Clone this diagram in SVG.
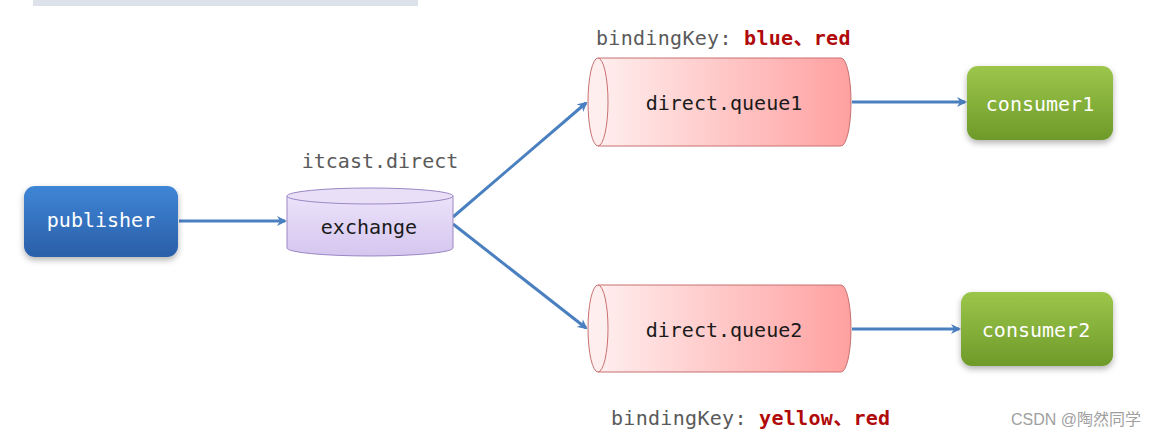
<svg xmlns="http://www.w3.org/2000/svg" width="1157" height="443" viewBox="0 0 1157 443">
<style>
.t{font-family:"DejaVu Sans Mono","Liberation Mono",monospace;font-size:20px;text-anchor:middle;dominant-baseline:central}
.w{fill:#ffffff}
.k{fill:#1a1a1a}
.g{fill:#5a5a5a}
.r{fill:#b00a0a;font-weight:bold}
.b{font-family:"DejaVu Sans Mono","Liberation Mono","Noto Sans CJK SC",monospace;font-size:20px;dominant-baseline:central;letter-spacing:0.3px}
.c{fill:none;stroke:#4a7fc0;stroke-width:3}
</style>
<defs>
<linearGradient id="gb" x1="0" y1="0" x2="0" y2="1"><stop offset="0" stop-color="#3f86d6"/><stop offset="1" stop-color="#2a5ea8"/></linearGradient>
<linearGradient id="gg" x1="0" y1="0" x2="0" y2="1"><stop offset="0" stop-color="#9cc64a"/><stop offset="1" stop-color="#6e9a2a"/></linearGradient>
<linearGradient id="gp" x1="0" y1="0" x2="0" y2="1"><stop offset="0" stop-color="#ebe2fa"/><stop offset="1" stop-color="#d5c6ef"/></linearGradient>
<linearGradient id="gr" x1="0" y1="0" x2="1" y2="0"><stop offset="0" stop-color="#ffeeee"/><stop offset="1" stop-color="#ffa0a0"/></linearGradient>
<filter id="sh" x="-20%" y="-20%" width="140%" height="150%"><feDropShadow dx="0" dy="3" stdDeviation="3" flood-color="#000" flood-opacity="0.3"/></filter>
<marker id="ar" markerWidth="10" markerHeight="10" refX="8" refY="5" orient="auto" markerUnits="userSpaceOnUse"><path d="M0,0 L10,5 L0,10 L3,5 Z" fill="#4a7fc0"/></marker>
</defs>
<rect x="0" y="0" width="1157" height="443" fill="#ffffff"/>
<rect x="33" y="0" width="385" height="6" fill="#dde1ea"/>

<g id="connectors">
<line class="c" x1="179" y1="221" x2="285" y2="221" marker-end="url(#ar)"/>
<line class="c" x1="453" y1="217" x2="586" y2="103" marker-end="url(#ar)"/>
<line class="c" x1="453" y1="224" x2="586" y2="328" marker-end="url(#ar)"/>
<line class="c" x1="852" y1="102" x2="965" y2="102" marker-end="url(#ar)"/>
<line class="c" x1="852" y1="329" x2="959" y2="329" marker-end="url(#ar)"/>
</g>

<g id="publisher">
<rect x="24" y="186" width="154" height="71" rx="11" fill="url(#gb)" filter="url(#sh)"/>
<text class="t w" x="101" y="220">publisher</text>
</g>

<g id="exchange">
<text class="t g" x="380" y="161">itcast.direct</text>
<path d="M287,196 L287,248 A83,8 0 0 0 453,248 L453,196 Z" fill="url(#gp)" stroke="#9a88c4" stroke-width="1"/>
<ellipse cx="370" cy="196" rx="83" ry="8" fill="#e9e0f8" stroke="#9a88c4" stroke-width="1"/>
<text class="t k" x="369" y="227">exchange</text>
</g>

<g id="queue1">
<text class="b" x="596" y="38"><tspan class="g">bindingKey: </tspan><tspan class="r">blue、red</tspan></text>
<path d="M598,58 L841,58 A10,44 0 0 1 841,146 L598,146 Z" fill="url(#gr)" stroke="#c87070" stroke-width="1"/>
<ellipse cx="598" cy="102" rx="10" ry="44" fill="#ffeeee" stroke="#c87070" stroke-width="1"/>
<text class="t k" x="724" y="103">direct.queue1</text>
</g>

<g id="queue2">
<path d="M598,285 L841,285 A10,43.5 0 0 1 841,372 L598,372 Z" fill="url(#gr)" stroke="#c87070" stroke-width="1"/>
<ellipse cx="598" cy="328.5" rx="10" ry="43.5" fill="#ffeeee" stroke="#c87070" stroke-width="1"/>
<text class="t k" x="724" y="330">direct.queue2</text>
<text class="b" x="611" y="418"><tspan class="g">bindingKey: </tspan><tspan class="r">yellow、red</tspan></text>
</g>

<g id="consumer1">
<rect x="967" y="66" width="146" height="74" rx="11" fill="url(#gg)" filter="url(#sh)"/>
<text class="t w" x="1040" y="104">consumer1</text>
</g>

<g id="consumer2">
<rect x="961" y="292" width="152" height="74" rx="11" fill="url(#gg)" filter="url(#sh)"/>
<text class="t w" x="1036" y="330">consumer2</text>
</g>

<text x="1141" y="425" text-anchor="end" style="font-family:'Liberation Sans','Noto Sans CJK SC',sans-serif;font-size:16px;fill:#a0a0a0">CSDN @陶然同学</text>
</svg>
